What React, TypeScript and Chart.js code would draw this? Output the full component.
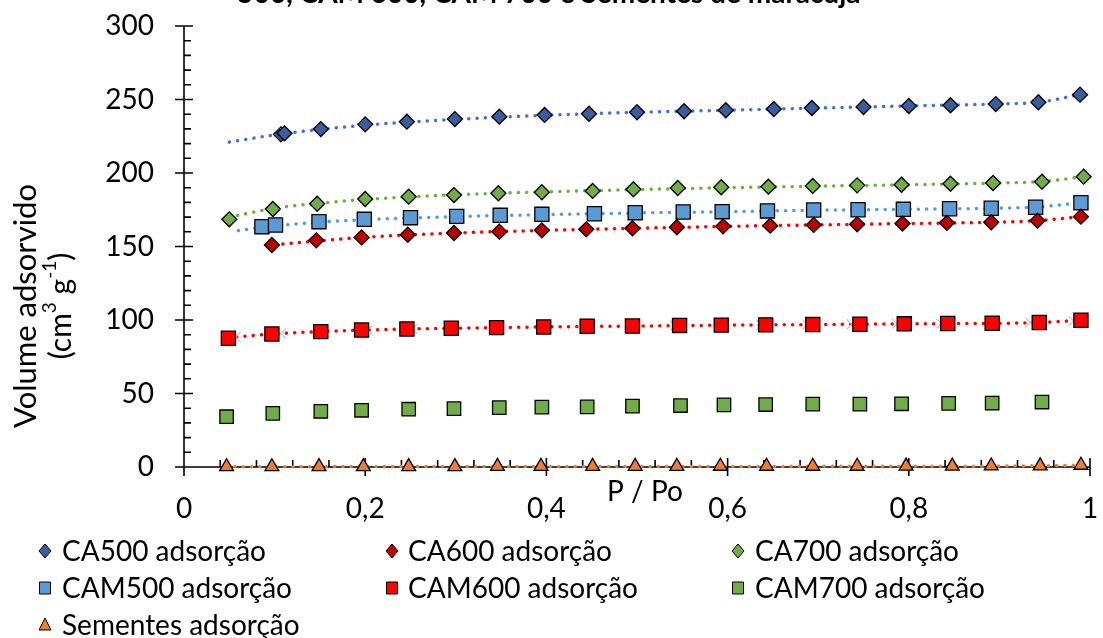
import React, { useEffect, useRef } from "react";
import { Chart, registerables } from "chart.js";

Chart.register(...registerables);

const FONT = "Lato, 'Open Sans', sans-serif";

// ---------- Text ----------
const titleText = "500, CAM 600, CAM 700 e Sementes de maracujá";
const xAxisTitle = "P / Po";
const yAxisTitle1 = "Volume adsorvido";
const xTickValues = [0, 0.2, 0.4, 0.6, 0.8, 1];
const xTickLabels = ["0", "0,2", "0,4", "0,6", "0,8", "1"];
const yTickValues = [0, 50, 100, 150, 200, 250, 300];

// ---------- Data (adsorção) ----------
const ca500X = [0.107, 0.111, 0.151, 0.2, 0.246, 0.299, 0.348, 0.398, 0.447, 0.5, 0.552, 0.598, 0.651, 0.693, 0.75, 0.8, 0.846, 0.896, 0.943, 0.989];
const ca500Y = [226.3, 227.0, 229.9, 233.1, 234.9, 236.7, 238.3, 239.5, 240.3, 241.3, 242.0, 242.7, 243.5, 244.2, 244.9, 245.6, 246.1, 246.9, 248.1, 253.3];

const ca600X = [0.097, 0.146, 0.196, 0.247, 0.298, 0.348, 0.395, 0.444, 0.495, 0.544, 0.595, 0.647, 0.695, 0.743, 0.793, 0.842, 0.891, 0.942, 0.99];
const ca600Y = [151.0, 154.2, 156.2, 158.0, 159.2, 160.1, 161.0, 161.7, 162.4, 163.1, 163.7, 164.2, 164.7, 165.1, 165.6, 166.1, 166.5, 167.6, 170.3];

const ca700X = [0.05, 0.098, 0.147, 0.2, 0.248, 0.298, 0.347, 0.395, 0.451, 0.496, 0.545, 0.593, 0.645, 0.694, 0.743, 0.792, 0.846, 0.893, 0.947, 0.993];
const ca700Y = [168.5, 175.5, 179.1, 182.3, 183.9, 185.0, 186.2, 186.9, 187.8, 188.9, 189.8, 190.3, 190.7, 191.2, 191.6, 192.0, 192.7, 193.2, 194.1, 197.5];

const cam500X = [0.086, 0.101, 0.149, 0.199, 0.25, 0.301, 0.349, 0.395, 0.453, 0.498, 0.551, 0.594, 0.644, 0.695, 0.744, 0.794, 0.845, 0.891, 0.94, 0.99];
const cam500Y = [163.5, 164.6, 166.9, 168.5, 169.6, 170.5, 171.2, 171.9, 172.3, 173.0, 173.5, 173.7, 174.2, 174.8, 175.0, 175.3, 175.7, 176.0, 176.7, 179.8];

const cam600X = [0.049, 0.097, 0.151, 0.196, 0.246, 0.295, 0.345, 0.397, 0.445, 0.495, 0.547, 0.593, 0.642, 0.694, 0.746, 0.795, 0.843, 0.892, 0.944, 0.99];
const cam600Y = [87.6, 90.5, 92.1, 93.2, 93.9, 94.4, 94.8, 95.3, 95.7, 95.9, 96.3, 96.5, 96.7, 96.9, 97.1, 97.4, 97.6, 97.8, 98.3, 99.8];

const cam700X = [0.047, 0.098, 0.151, 0.196, 0.248, 0.298, 0.348, 0.395, 0.445, 0.495, 0.548, 0.596, 0.642, 0.694, 0.746, 0.792, 0.844, 0.892, 0.947];
const cam700Y = [34.2, 36.5, 37.9, 38.6, 39.3, 39.7, 40.4, 40.7, 40.9, 41.4, 41.8, 42.3, 42.5, 42.8, 42.8, 43.0, 43.3, 43.5, 44.2];

const sementesX = [0.047, 0.097, 0.149, 0.198, 0.248, 0.299, 0.346, 0.394, 0.451, 0.498, 0.544, 0.592, 0.643, 0.694, 0.743, 0.797, 0.848, 0.891, 0.945, 0.99];
const sementesY = [0.2, 0.2, 0.3, 0.3, 0.3, 0.3, 0.4, 0.4, 0.4, 0.4, 0.4, 0.5, 0.5, 0.5, 0.5, 0.6, 0.6, 0.7, 0.8, 1.2];

// faint light-blue cross markers behind CAM600 squares
const crossX = [0.057, 0.107, 0.151, 0.203, 0.252, 0.295, 0.346, 0.395, 0.445, 0.493, 0.542, 0.592, 0.637, 0.688, 0.737, 0.787, 0.836, 0.89, 0.934, 0.982];
const crossY = [88.5, 90.8, 92.2, 93.3, 94.0, 94.5, 94.9, 95.3, 95.7, 96.0, 96.3, 96.5, 96.7, 96.9, 97.1, 97.4, 97.6, 97.8, 98.2, 99.3];

// ---------- Dotted curves ----------
const ca500LineX = [0.05, 0.107, 0.2, 0.3, 0.4, 0.5, 0.6, 0.7, 0.8, 0.9, 0.943, 0.989];
const ca500LineY = [221.0, 226.5, 232.5, 236.5, 239.3, 241.3, 242.7, 244.2, 245.6, 247.0, 248.1, 253.3];

const ca600LineX = [0.1, 0.2, 0.3, 0.4, 0.5, 0.6, 0.7, 0.8, 0.9, 0.942, 0.99];
const ca600LineY = [151.2, 156.3, 159.2, 161.0, 162.4, 163.7, 164.7, 165.6, 166.6, 167.6, 170.3];

const ca700LineX = [0.05, 0.1, 0.15, 0.2, 0.3, 0.4, 0.5, 0.6, 0.7, 0.8, 0.9, 0.947, 0.993];
const ca700LineY = [170.0, 176.0, 179.5, 182.0, 185.2, 187.2, 188.7, 190.0, 191.0, 192.0, 193.2, 194.2, 197.5];

const cam500LineX = [0.06, 0.1, 0.15, 0.2, 0.3, 0.4, 0.5, 0.6, 0.7, 0.8, 0.9, 0.94, 0.99];
const cam500LineY = [160.8, 164.0, 166.5, 168.3, 170.3, 171.7, 172.8, 173.7, 174.7, 175.3, 176.1, 176.8, 179.8];

const cam600LineX = [0.049, 0.1, 0.15, 0.2, 0.3, 0.4, 0.5, 0.6, 0.7, 0.8, 0.9, 0.944, 0.99];
const cam600LineY = [88.0, 90.6, 92.1, 93.2, 94.4, 95.3, 95.9, 96.5, 96.9, 97.4, 97.8, 98.3, 99.8];

const sementesLineX = [0.047, 0.5, 0.9, 0.99];
const sementesLineY = [0.2, 0.4, 0.6, 1.2];

const zip = (xs: number[], ys: number[]) => xs.map((x, i) => ({ x, y: ys[i] }));

type LegendItem = { label: string; shape: "diamond" | "square" | "triangle"; color: string };
const legendItems: LegendItem[] = [
  { label: "CA500 adsorção", shape: "diamond", color: "#3A5DA0" },
  { label: "CA600 adsorção", shape: "diamond", color: "#C00000" },
  { label: "CA700 adsorção", shape: "diamond", color: "#70AD47" },
  { label: "CAM500 adsorção", shape: "square", color: "#5B9BD5" },
  { label: "CAM600 adsorção", shape: "square", color: "#FF0000" },
  { label: "CAM700 adsorção", shape: "square", color: "#70AD47" },
  { label: "Sementes adsorção", shape: "triangle", color: "#ED7D31" },
];

const dotted = (data: { x: number; y: number }[], color: string) => ({
  data,
  showLine: true,
  borderColor: color,
  borderWidth: 3.5,
  borderDash: [0.1, 8.2],
  borderCapStyle: "round" as const,
  pointRadius: 0,
  cubicInterpolationMode: "monotone" as const,
  clip: false as const,
  order: 20,
});

const marker = (label: string, data: { x: number; y: number }[], style: string, radius: number, color: string, order: number) => ({
  label,
  data,
  showLine: false,
  pointStyle: style,
  pointRadius: radius,
  pointBackgroundColor: color,
  pointBorderColor: "#000",
  pointBorderWidth: 1.3,
  clip: false as const,
  order,
});

const zeroPad = (scale: any) => {
  scale.paddingLeft = 0;
  scale.paddingRight = 0;
  scale.paddingTop = 0;
  scale.paddingBottom = 0;
};

const decorPlugin = {
  id: "decor",
  beforeDatasetsDraw(chart: any) {
    const { ctx, scales } = chart;
    const xs = scales.x;
    const ys = scales.y;
    const x0 = xs.getPixelForValue(0);
    const x1 = xs.getPixelForValue(1);
    const y0 = ys.getPixelForValue(0);
    const yTop = ys.getPixelForValue(300);
    ctx.save();
    ctx.strokeStyle = "#000";
    ctx.lineWidth = 1.6;
    ctx.beginPath();
    ctx.moveTo(x0, yTop);
    ctx.lineTo(x0, y0);
    ctx.moveTo(x0 - 9, y0);
    ctx.lineTo(x1, y0);
    for (let v = 0; v <= 300; v += 10) {
      const py = ys.getPixelForValue(v);
      if (v % 50 === 0) {
        ctx.moveTo(x0 - 9, py);
        ctx.lineTo(x0 + 9, py);
      } else {
        ctx.moveTo(x0, py);
        ctx.lineTo(x0 + 7, py);
      }
    }
    for (let i = 0; i <= 25; i++) {
      const px = xs.getPixelForValue(i * 0.04);
      if (i % 5 === 0) {
        ctx.moveTo(px, y0 - 9);
        ctx.lineTo(px, y0 + 9);
      } else {
        ctx.moveTo(px, y0);
        ctx.lineTo(px, y0 - 7);
      }
    }
    ctx.stroke();
    ctx.restore();
  },
  afterDraw(chart: any) {
    const { ctx } = chart;
    ctx.save();
    ctx.fillStyle = "#000";
    // clipped title
    ctx.font = `bold 28px ${FONT}`;
    ctx.textAlign = "center";
    ctx.textBaseline = "alphabetic";
    ctx.fillText(titleText, 549, 3);

    // x axis title
    ctx.font = `28px ${FONT}`;
    ctx.textBaseline = "middle";
    ctx.fillText(xAxisTitle, 645, 492);

    // y axis title (two lines, rotated)
    ctx.save();
    ctx.translate(26, 306);
    ctx.rotate(-Math.PI / 2);
    ctx.textAlign = "center";
    ctx.textBaseline = "middle";
    ctx.font = `31px ${FONT}`;
    ctx.fillText(yAxisTitle1, 0, 0);
    const parts: [string, boolean][] = [["(cm", false], ["3", true], [" g", false], ["-1", true], [")", false]];
    const normal = `30px ${FONT}`;
    const sup = `19px ${FONT}`;
    let total = 0;
    for (const [t, s] of parts) {
      ctx.font = s ? sup : normal;
      total += ctx.measureText(t).width;
    }
    let cx = -total / 2;
    ctx.textAlign = "left";
    for (const [t, s] of parts) {
      ctx.font = s ? sup : normal;
      ctx.fillText(t, cx, 35 + (s ? -11 : 0));
      cx += ctx.measureText(t).width;
    }
    ctx.restore();

    // legend
    const colText = [62, 408, 755];
    const colMark = [45, 392, 738];
    const rows = [551, 588, 625];
    ctx.font = `28px ${FONT}`;
    ctx.textAlign = "left";
    ctx.textBaseline = "middle";
    legendItems.forEach((it, i) => {
      const r = Math.floor(i / 3);
      const c = i % 3;
      const mx = colMark[c];
      const my = rows[r];
      ctx.fillStyle = it.color;
      ctx.strokeStyle = "#000";
      ctx.lineWidth = 1;
      ctx.beginPath();
      if (it.shape === "diamond") {
        ctx.moveTo(mx, my - 7);
        ctx.lineTo(mx + 6, my);
        ctx.lineTo(mx, my + 7);
        ctx.lineTo(mx - 6, my);
        ctx.closePath();
      } else if (it.shape === "square") {
        ctx.rect(mx - 5.5, my - 6, 11, 12);
      } else {
        ctx.moveTo(mx, my - 7);
        ctx.lineTo(mx + 6, my + 5);
        ctx.lineTo(mx - 6, my + 5);
        ctx.closePath();
      }
      ctx.fill();
      ctx.stroke();
      ctx.fillStyle = "#000";
      ctx.fillText(it.label, colText[c], my + 1);
    });
    ctx.restore();
  },
};

export default function App() {
  const ref = useRef<HTMLCanvasElement | null>(null);

  useEffect(() => {
    if (!ref.current) return;
    Chart.defaults.color = "#000";
    const chart = new Chart(ref.current, {
      type: "scatter",
      data: {
        datasets: [
          marker("CA500 adsorção", zip(ca500X, ca500Y), "rectRot", 7.5, "#3A5DA0", 0),
          marker("CA600 adsorção", zip(ca600X, ca600Y), "rectRot", 7.5, "#C00000", 1),
          marker("CA700 adsorção", zip(ca700X, ca700Y), "rectRot", 7.5, "#70AD47", 2),
          marker("CAM500 adsorção", zip(cam500X, cam500Y), "rect", 10, "#5B9BD5", 3),
          marker("CAM600 adsorção", zip(cam600X, cam600Y), "rect", 10, "#FF0000", 4),
          marker("CAM700 adsorção", zip(cam700X, cam700Y), "rect", 9.5, "#70AD47", 5),
          marker("Sementes adsorção", zip(sementesX, sementesY), "triangle", 8, "#ED7D31", 6),
          {
            data: zip(crossX, crossY),
            showLine: false,
            pointStyle: "crossRot",
            pointRadius: 7,
            pointBorderColor: "#A9C6E8",
            pointBorderWidth: 1.2,
            clip: false,
            order: 15,
          } as any,
          dotted(zip(ca500LineX, ca500LineY), "#4472C4"),
          dotted(zip(ca600LineX, ca600LineY), "#FF0000"),
          dotted(zip(ca700LineX, ca700LineY), "#70AD47"),
          dotted(zip(cam500LineX, cam500LineY), "#5B9BD5"),
          dotted(zip(cam600LineX, cam600LineY), "#FF0000"),
          dotted(zip(sementesLineX, sementesLineY), "#ED7D31"),
        ] as any,
      },
      options: {
        responsive: false,
        maintainAspectRatio: false,
        devicePixelRatio: 1,
        animation: false,
        layout: { padding: { top: 26, right: 13, left: 0, bottom: 0 } },
        plugins: {
          legend: { display: false },
          tooltip: { enabled: false },
          title: { display: false },
        },
        scales: {
          x: {
            type: "linear",
            min: 0,
            max: 1,
            grid: { display: false, drawTicks: false },
            border: { display: false },
            afterBuildTicks: (scale: any) => {
              scale.ticks = xTickValues.map((v) => ({ value: v }));
            },
            afterFit: (scale: any) => {
              scale.height = 171;
              zeroPad(scale);
            },
            ticks: {
              padding: 25,
              color: "#000",
              font: { family: FONT, size: 28 },
              maxRotation: 0,
              autoSkip: false,
              callback: (_v: any, i: number) => xTickLabels[i],
            },
          },
          y: {
            type: "linear",
            min: 0,
            max: 300,
            grid: { display: false, drawTicks: false },
            border: { display: false },
            afterBuildTicks: (scale: any) => {
              scale.ticks = yTickValues.map((v) => ({ value: v }));
            },
            afterFit: (scale: any) => {
              scale.width = 184;
              zeroPad(scale);
            },
            ticks: {
              padding: 30,
              color: "#000",
              font: { family: FONT, size: 28 },
              callback: (v: any) => String(v),
            },
          },
        },
      } as any,
      plugins: [decorPlugin],
    });
    return () => chart.destroy();
  }, []);

  return (
    <div style={{ position: "fixed", left: 0, top: 0, width: 1103, height: 638, background: "#fff" }}>
      <canvas ref={ref} width={1103} height={638} style={{ display: "block", width: 1103, height: 638 }} />
    </div>
  );
}
